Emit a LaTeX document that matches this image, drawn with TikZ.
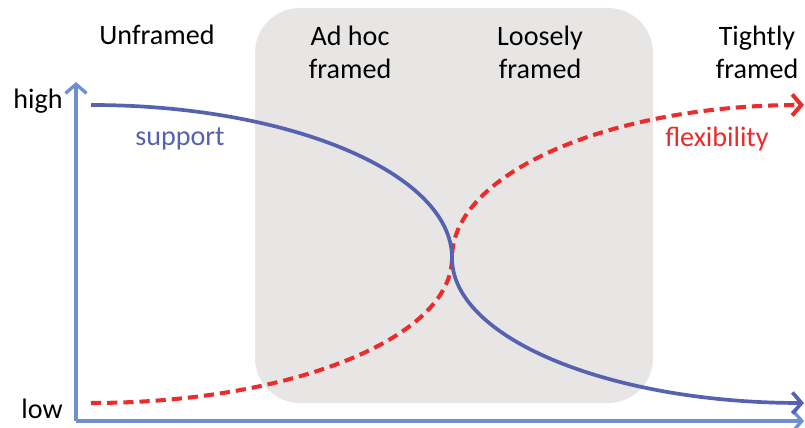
\documentclass[tikz,border=0pt]{standalone}
\usepackage{fontspec}
\setmainfont{Carlito}
\usetikzlibrary{arrows.meta}
\definecolor{axisblue}{HTML}{6F8FCF}
\definecolor{supblue}{HTML}{5661B2}
\definecolor{flexred}{HTML}{EE2A2A}
\definecolor{boxgray}{HTML}{E7E6E5}
\tikzset{
  lbl/.style={font=\fontsize{8}{9.4}\selectfont, align=center, inner sep=0pt},
  tip/.style={-{Straight Barb[length=2.6pt,width=6pt]}},
  axis/.style={axisblue, line width=0.95pt, tip},
}
\begin{document}
\begin{tikzpicture}
        \useasboundingbox (0,0) rectangle (8.05,4.28);

        % middle region
        \fill[boxgray, rounded corners=0.45cm] (2.55,0.25) rectangle (6.53,4.20);

        % headings
        \node[lbl] (unframed) at (1.57,3.93) {Unframed};
        \node[lbl] (adhoc) at (3.50,3.76) {Ad hoc\\framed};
        \node[lbl] (loosely) at (5.40,3.76) {Loosely\\framed};
        \node[lbl] (tightly) at (7.57,3.76) {Tightly\\framed};

        % axes
        \coordinate (origin) at (0.76,0.07);
        \coordinate (ytop) at (0.76,3.46);
        \coordinate (xend) at (8.04,0.07);
        \draw[axis] (origin) -- (ytop);
        \draw[axis] (origin) -- (xend);
        \node[lbl] (high) at (0.38,3.27) {high};
        \node[lbl] (low) at (0.42,0.19) {low};

        % flexibility
        \coordinate (f0) at (0.91,0.25);
        \draw[flexred, line width=1.15pt, dash pattern=on 2.9pt off 1.7pt, tip]
          (f0) arc[start angle=270, end angle=360, x radius=3.61, y radius=1.45]
               arc[start angle=180, end angle=90, x radius=3.52, y radius=1.53];
        \node[lbl, text=flexred] (flex) at (7.17,2.89) {flexibility};

        % support
        \coordinate (s0) at (0.91,3.23);
        \draw[supblue, line width=1.05pt, tip]
          (s0) arc[start angle=90, end angle=0, x radius=3.61, y radius=1.53]
               arc[start angle=180, end angle=270, x radius=3.52, y radius=1.45];
        \node[lbl, text=supblue] (support) at (1.80,2.89) {support};
\end{tikzpicture}
\end{document}
